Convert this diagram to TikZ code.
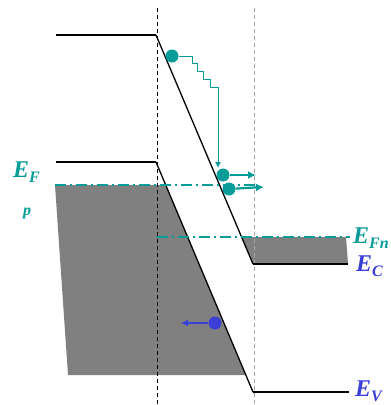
\documentclass[tikz,border=0pt]{standalone}
\usepackage{fontspec}
\setmainfont{Liberation Serif}
\usetikzlibrary{positioning,arrows.meta,calc}
\definecolor{tealc}{HTML}{089C98}
\definecolor{holeblue}{HTML}{3A3FD6}
\definecolor{bandgray}{HTML}{808080}
\tikzset{
  carrier/.style={circle, inner sep=0pt, minimum size=13pt},
  lbl/.style={anchor=base west, inner sep=0pt, font=\bfseries\itshape\fontsize{24}{24}\selectfont},
  fermi/.style={tealc, line width=1.6pt, dash pattern=on 11pt off 4pt on 2pt off 4pt},
}
\newcommand{\sub}[1]{\lower5pt\hbox{\fontsize{16}{16}\selectfont #1}}

\begin{document}
\begin{tikzpicture}[x=1pt,y=-1pt]
  \useasboundingbox (0,0) rectangle (391,405);

  % Filled states
  \fill[bandgray] (55,185) -- (165.7,185) -- (245.8,375) -- (68,375) -- cycle;
  \fill[bandgray] (241.6,237) -- (346,237) -- (348,264) -- (253,264) -- cycle;

  % Junction edges
  \draw[line width=1pt, dash pattern=on 4pt off 3pt] (157,8) -- (157,405);
  \draw[gray!70, line width=1pt, dash pattern=on 4pt off 3pt] (254,8) -- (254,405);

  % Bands
  \draw[line width=1.8pt] (56,35) -- (156,35);
  \draw[line width=1.3pt] (156,35) -- (253,264);
  \draw[line width=1.8pt] (253,264) -- (348,264);
  \draw[line width=1.8pt] (56,162) -- (156,162);
  \draw[line width=1.3pt] (156,162) -- (253,392);
  \draw[line width=1.8pt] (253,392) -- (349,392);

  % Fermi levels
  \draw[fermi] (55,185) -- (258,185);
  \draw[fermi] (157,237) -- (350,237);

  % Labels
  \node[lbl, tealc] (EF) at (13,177) {E\sub{F}};
  \node[lbl, tealc, font=\bfseries\itshape\fontsize{16}{16}\selectfont] (pside) at (23,215) {p};
  \node[lbl, tealc] (EFn) at (353,243) {E\sub{Fn}};
  \node[lbl, holeblue] (EC) at (356,271) {E\sub{C}};
  \node[lbl, holeblue] (EV) at (355,396) {E\sub{V}};

  % Electrons
  \node[carrier, fill=tealc] (e1) at (172,56) {};
  \node[carrier, fill=tealc] (e2) at (223,175) {};
  \node[carrier, fill=tealc] (e3) at (229,189) {};
  \coordinate (e2end) at (256,175);
  \coordinate (e3end) at (264,187);
  \draw[tealc, line width=0.9pt, -{Latex[length=6pt,width=6pt]}]
    (e1.east) -- (192,56) -- (192,63) -- (197,63) -- (197,71) -- (203,71)
    -- (203,79) -- (210,79) -- (210,87) -- (218,87) -- (218,168);
  \draw[tealc, line width=2.2pt, -{Latex[length=8pt,width=8pt]}] (e2) -- (e2end);
  \draw[tealc, line width=2.2pt, -{Latex[length=8pt,width=8pt]}] (e3) -- (e3end);

  % Hole
  \node[carrier, fill=holeblue] (h1) at (215,323) {};
  \coordinate (h1end) at (181,323);
  \draw[holeblue, line width=1.6pt, -{Latex[length=7pt,width=7pt]}] (h1) -- (h1end);
\end{tikzpicture}
\end{document}
